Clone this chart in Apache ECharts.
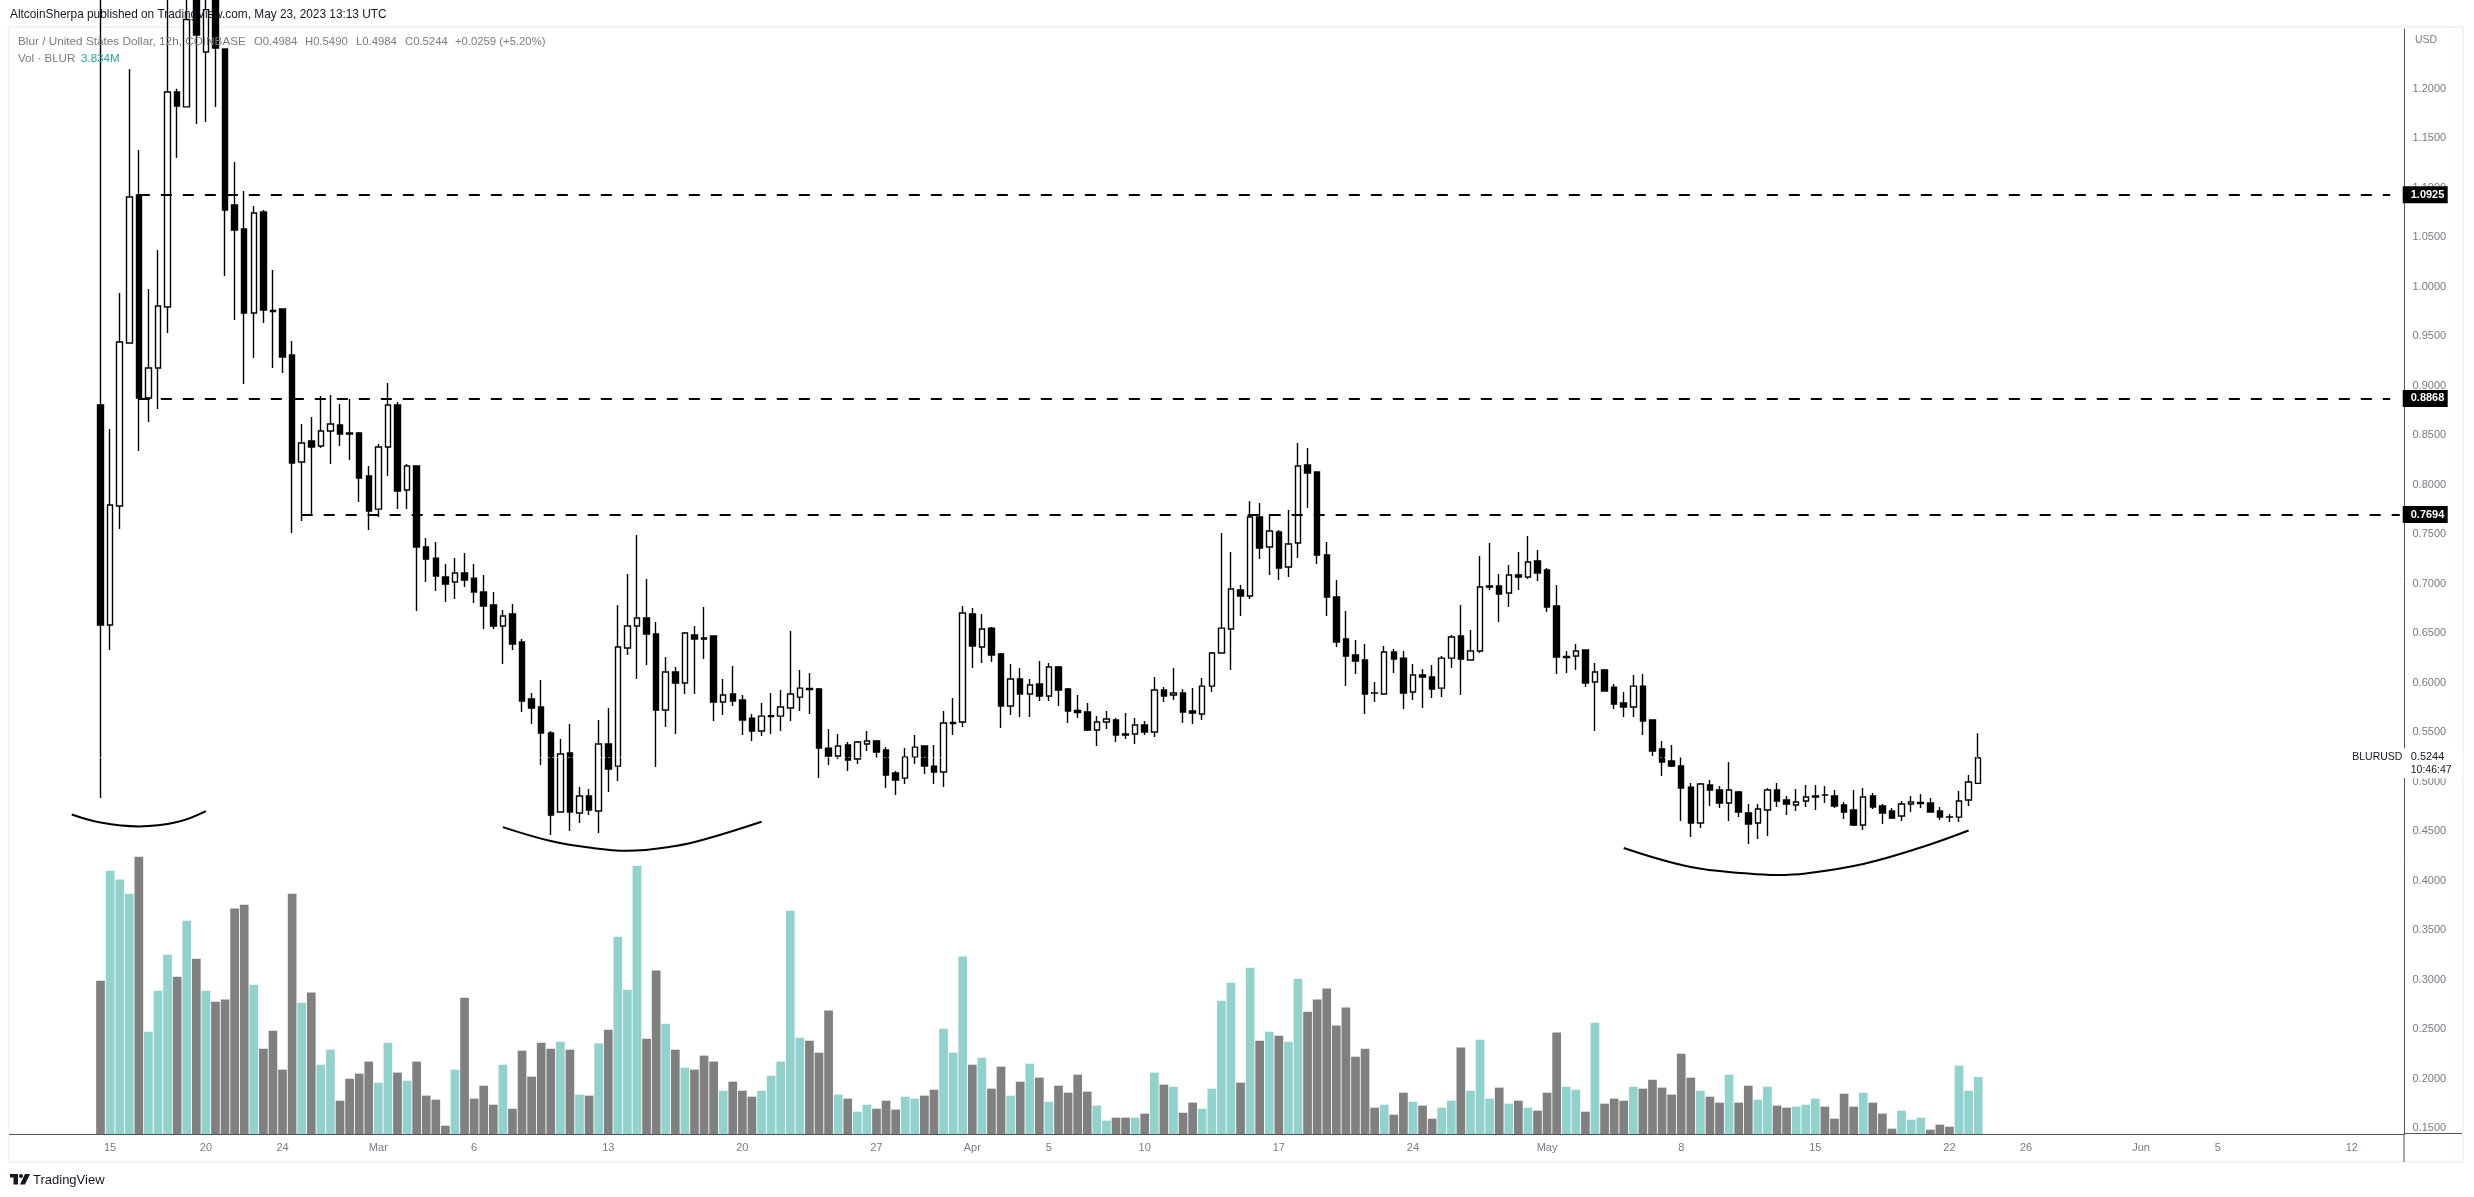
<!DOCTYPE html>
<html>
<head>
<meta charset="utf-8">
<title>BLURUSD</title>
<script src="https://cdn.jsdelivr.net/npm/echarts@6/dist/echarts.min.js"></script>
<style>
html,body{margin:0;padding:0;background:#fff;}
#main{width:2474px;height:1197px;}
</style>
</head>
<body>
<div id="main"></div>
<script>
// 12h candles. first candle is 2023-02-14 12:00
const opens = [
.8806,.6584,.7786,.9432,1.0927,.8877,.9180,.9796,1.1968,1.1817,
1.32,1.2372,1.30,1.2402,1.0826,1.0584,.9735,1.0756,.9761,.9776,
.9311,.8230,.8442,.8392,.8543,.8604,.8523,.8523,.8089,.7755,
.8382,.8806,.7947,.8190,.7372,.7260,.7069,.7018,.7109,.7058,
.6917,.6786,.6574,.6695,.6412,.5836,.5756,.5493,.4695,.5291,
.4685,.4857,.4705,.5382,.5159,.6352,.6574,.6655,.6493,.5725,
.6109,.5998,.6483,.6453,.6473,.5806,.5887,.5826,.5644,.5513,
.5659,.5664,.5746,.5856,.5942,.5937,.5341,.5261,.5372,.5230,
.5382,.5412,.5321,.5089,.5038,.5250,.5362,.5159,.5099,.5589,
.5604,.6695,.6362,.6553,.6291,.5766,.6038,.5887,.5988,.5867,
.6160,.5937,.5720,.5705,.5523,.5604,.5624,.5483,.5483,.5574,
.5503,.5927,.5877,.5897,.5716,.5685,.5967,.6301,.6543,.6937,
.6877,.7675,.7372,.7523,.7170,.7412,.8200,.8129,.7291,.6867,
.6442,.6281,.6230,.5898,.5887,.6311,.6250,.5907,.6079,.6059,
.5947,.6250,.6473,.6230,.6321,.6968,.6978,.6907,.7089,.7069,
.7230,.7139,.6776,.6256,.6271,.6331,.6008,.6130,.5957,.5796,
.5756,.5967,.5624,.5331,.5210,.5160,.4947,.4584,.4968,.4917,
.4786,.4897,.4685,.4584,.4715,.4917,.4816,.4766,.4806,.4847,
.4868,.4857,.4766,.4715,.4564,.4857,.4756,.4705,.4655,.4776,
.4781,.4786,.4705,.4645,.4644,.4816,.4984];
const closes = [
.6584,.7796,.9442,1.0907,.8877,.9180,.9806,1.1968,1.1827,1.27,
1.2543,1.28,1.2412,1.0776,1.0574,.9735,1.0745,.9766,.9751,.9291,
.8220,.8422,.8382,.8543,.8614,.8513,.8513,.8069,.7735,.8382,
.8806,.7937,.8190,.7372,.7250,.7079,.6998,.7109,.7038,.6917,
.6776,.6574,.6675,.6392,.5816,.5746,.5493,.4665,.5281,.4695,
.4857,.4715,.5382,.5129,.6362,.6574,.6655,.6493,.5725,.6109,
.5998,.6503,.6442,.6443,.5806,.5877,.5816,.5624,.5513,.5664,
.5669,.5756,.5887,.5947,.5932,.5341,.5261,.5362,.5220,.5402,
.5412,.5301,.5069,.5018,.5250,.5351,.5159,.5099,.5594,.5599,
.6705,.6372,.6543,.6281,.5766,.6038,.5887,.5978,.5867,.6160,
.5927,.5715,.5700,.5523,.5604,.5634,.5473,.5473,.5574,.5503,
.5927,.5867,.5897,.5705,.5695,.5967,.6301,.6553,.6947,.6877,
.7675,.7362,.7533,.7160,.7402,.8190,.8119,.7291,.6867,.6412,
.6271,.6220,.5887,.5897,.6311,.6240,.5897,.6079,.6059,.5937,
.6250,.6463,.6240,.6321,.6968,.6978,.6897,.7089,.7069,.7220,
.7109,.6766,.6261,.6266,.6321,.5998,.6109,.5917,.5786,.5756,
.5967,.5614,.5311,.5200,.5160,.4937,.4584,.4978,.4917,.4786,
.4917,.4695,.4574,.4725,.4917,.4806,.4776,.4796,.4847,.4857,
.4867,.4756,.4695,.4564,.4847,.4745,.4685,.4634,.4776,.4796,
.4791,.4695,.4644,.4644,.4806,.4998,.5244];
const lows = [
.4837,.6331,.7553,.9432,.8341,.8634,.8766,.9533,1.1301,1.1817,
1.1645,1.1665,1.1816,1.0109,.9665,.9018,.9281,.9634,.9180,.9129,
.7513,.7634,.7705,.8372,.8210,.8392,.8250,.7826,.7543,.7675,
.8089,.7755,.7755,.6725,.7018,.6927,.6816,.6846,.6968,.6806,
.6543,.6543,.6190,.6331,.5705,.5584,.5170,.4463,.4695,.4503,
.4584,.4665,.4483,.4897,.5008,.6281,.6038,.6180,.5150,.5554,
.5483,.5887,.5887,.6240,.5614,.5675,.5766,.5473,.5412,.5463,
.5483,.5513,.5614,.5715,.5685,.5038,.5170,.5230,.5109,.5180,
.5311,.5240,.4937,.4867,.4977,.5180,.5079,.4977,.4947,.5473,
.5554,.6150,.6200,.6210,.5544,.5675,.5655,.5655,.5816,.5816,
.5766,.5594,.5644,.5513,.5361,.5534,.5402,.5432,.5382,.5473,
.5453,.5806,.5826,.5594,.5584,.5624,.5907,.6301,.6130,.6675,
.6846,.7250,.7089,.7038,.7069,.7260,.7766,.7200,.6675,.6362,
.5968,.6089,.5685,.5806,.5887,.6099,.5735,.5826,.5746,.5846,
.5856,.6150,.5877,.6230,.6301,.6938,.6614,.6766,.6937,.7048,
.7028,.6715,.6089,.6099,.6130,.5957,.5513,.5917,.5735,.5655,
.5655,.5473,.5260,.5059,.5150,.4604,.4442,.4533,.4756,.4735,
.4604,.4644,.4372,.4422,.4453,.4745,.4665,.4705,.4745,.4715,
.4786,.4735,.4624,.4554,.4513,.4725,.4574,.4624,.4604,.4695,
.4735,.4695,.4614,.4594,.4594,.4756,.4984];
const highs = [
1.32,.8564,.9937,1.22,1.1382,.9978,1.0372,1.30,1.2,1.30,
1.36,1.33,1.34,1.2402,1.1261,1.0968,1.0816,1.0776,1.0170,.9776,
.9453,.8614,.8685,.8897,.8907,.8816,.8867,.8533,.8190,.8412,
.9028,.8836,.8210,.8190,.7463,.7422,.7200,.7260,.7311,.7200,
.7089,.6917,.6735,.6796,.6442,.5897,.6028,.5513,.5432,.5584,
.4947,.4927,.5624,.5746,.6786,.7099,.7493,.7048,.6614,.6261,
.6160,.6513,.6574,.6766,.6473,.6038,.6170,.5877,.5685,.5796,
.5897,.5927,.6523,.6130,.6099,.5947,.5534,.5483,.5402,.5412,
.5513,.5422,.5351,.5109,.5341,.5473,.5362,.5372,.5715,.5846,
.6776,.6756,.6695,.6563,.6301,.6190,.6150,.6038,.6220,.6200,
.6170,.5947,.5877,.5796,.5664,.5715,.5644,.5695,.5644,.5614,
.6058,.5958,.6150,.5938,.5947,.6048,.6311,.7513,.7321,.6988,
.7836,.7816,.7705,.7543,.7745,.8422,.8372,.8129,.7422,.7038,
.6725,.6432,.6392,.6008,.6372,.6341,.6321,.6190,.6139,.6180,
.6271,.6483,.6786,.6534,.7281,.7412,.7099,.7190,.7321,.7483,
.7341,.7159,.6988,.6321,.6392,.6331,.6200,.6139,.5988,.5907,
.6079,.6089,.5624,.5412,.5372,.5250,.4988,.4988,.5018,.4957,
.5200,.4907,.4776,.4776,.4937,.4988,.4857,.4927,.4968,.4968,
.4958,.4917,.4796,.4917,.4937,.4887,.4776,.4735,.4806,.4857,
.4877,.4836,.4745,.4675,.4907,.5069,.5490];
// volume in millions
const volumes = [
10.31,17.71,17.11,16.16,18.65,6.88,9.64,12.06,10.58,14.35,
11.79,9.64,8.90,9.04,15.16,15.42,10.04,5.74,6.95,4.33,
16.16,8.83,9.51,4.66,5.67,2.24,3.72,4.06,4.87,3.45,
6.14,4.13,3.59,4.87,2.58,2.31,0.56,4.33,9.17,2.38,
3.25,1.97,4.66,1.70,5.61,3.86,6.14,5.74,6.21,5.67,
2.65,2.58,6.08,7.02,13.27,9.71,18.05,6.41,10.99,7.42,
5.67,4.46,4.33,5.27,4.87,2.91,3.52,2.91,2.51,2.91,
3.92,4.87,15.02,6.48,6.28,5.47,8.30,2.65,2.38,1.50,
1.97,1.70,2.24,1.64,2.51,2.38,2.58,2.98,7.08,5.47,
11.93,4.66,5.13,3.05,4.53,2.58,3.52,4.73,3.79,2.17,
3.25,2.78,3.99,2.85,1.91,0.90,1.10,1.10,1.10,1.37,
4.13,3.32,3.18,1.43,2.11,1.70,3.05,8.97,10.18,3.45,
11.19,6.28,6.88,6.61,6.21,10.45,8.23,9.04,9.78,7.29,
8.50,5.20,5.74,1.77,1.97,1.30,2.78,2.17,1.91,1.03,
1.77,2.24,5.81,2.91,6.34,2.38,3.12,2.04,2.24,1.77,
1.57,2.78,6.82,3.18,2.98,1.50,7.49,2.04,2.38,2.24,
3.18,3.05,3.65,3.12,2.65,5.40,3.79,2.91,2.51,2.11,
3.99,2.11,3.25,2.31,3.18,1.91,1.77,1.84,1.97,2.38,
1.84,1.03,2.71,1.84,2.78,2.11,1.37,0.36,1.57,0.96,
1.10,0.29,0.63,0.49,4.60,2.91,3.834];

const priceTicks = [0.15,0.2,0.25,0.3,0.35,0.4,0.45,0.5,0.55,0.6,0.65,0.7,0.75,0.8,0.85,0.9,0.95,1,1.05,1.1,1.15,1.2];
const tickDays = ['02-15','02-20','02-24','03-01','03-06','03-13','03-20','03-27','04-01','04-05','04-10','04-17','04-24','05-01','05-08','05-15','05-22','05-26','06-01','06-05','06-12'];
const tickLabels = ['15','20','24','Mar','6','13','20','27','Apr','5','10','17','24','May','8','15','22','26','Jun','5','12'];

// horizontal levels: price, first slot, last slot
const levelPrices = [1.0925,0.8868,0.7694];
const levelStart = [13,13,30];
const levelEnd = [248,248,249];

// hand drawn arcs under the lows: [slot, price]
const arcLeft = [[6,.4670],[9,.4589],[13,.4550],[17,.4594],[20,.4705]];
const arcMiddle = [[51,.4543],[56,.4402],[60,.4336],[64,.4304],[69,.4352],[72,.4417],[78,.4597]];
const arcRight = [[168,.4331],[175,.4139],[181,.4074],[184,.4059],[187,.4074],[193,.4170],[199,.4336],[204,.4508]];

// header values and where each one starts
const headerValues = ['O0.4984','H0.5490','L0.4984','C0.5244','+0.0259 (+5.20%)'];
const headerValueX = [254,305,356,405,455];

const lastPrice = 0.5244;
const FIRST_SLOT = 9;

// 250 half day slots, 2023-02-10 onwards
const categories = [];
const dayMs = new Date(Date.UTC(2023,1,10)).getTime();
for (let i = 0; i < 250; i++) {
  const d = new Date(dayMs + i * 43200000);
  const name = String(d.getUTCMonth()+1).padStart(2,'0') + '-' + String(d.getUTCDate()).padStart(2,'0');
  categories.push(i % 2 ? name + ' 12h' : name);
}

const candles = opens.map((o,i) => [i + FIRST_SLOT, o, closes[i], lows[i], highs[i]]);
const volBars = volumes.map((v,i) => ({
  value: [i + FIRST_SLOT, v],
  itemStyle: {color: closes[i] >= opens[i] ? '#92d2cc' : '#808080'}
}));

const FONT = '"Liberation Sans"';
const AXIS_COLOR = '#50535e';
const TEXT_COLOR = '#787b86';

function arcSeries(points) {
  return {
    type: 'line', data: points, smooth: 0.4, symbol: 'none', silent: true, z: 6,
    lineStyle: {color: '#000', width: 2}
  };
}

const chart = echarts.init(document.getElementById('main'), null, {renderer: 'canvas'});
const option = {
  animation: false,
  backgroundColor: '#fff',
  grid: {left: 9.5, top: 29, width: 2395, height: 1105},
  xAxis: {
    type: 'category',
    data: categories,
    boundaryGap: true,
    axisLine: {lineStyle: {color: AXIS_COLOR, width: 1}},
    axisTick: {show: false},
    splitLine: {show: false},
    axisLabel: {
      interval: (i, name) => tickDays.includes(name),
      formatter: name => tickLabels[tickDays.indexOf(name)],
      color: TEXT_COLOR, fontFamily: FONT, fontSize: 11, margin: 8
    }
  },
  yAxis: [{
    type: 'value', position: 'right', min: 0.1443, max: 1.2604, scale: true,
    axisLine: {show: true, lineStyle: {color: AXIS_COLOR, width: 1}},
    axisTick: {show: false},
    splitLine: {show: false},
    axisLabel: {
      customValues: priceTicks,
      formatter: v => v.toFixed(4),
      color: TEXT_COLOR, fontFamily: FONT, fontSize: 11, margin: 8
    }
  }, {
    type: 'value', min: 0, max: 74.32, show: false
  }],
  series: [{
    type: 'bar', yAxisIndex: 1, data: volBars, barWidth: 8.7, silent: true, z: 1
  }, {
    type: 'candlestick',
    data: candles,
    encode: {x: 0, y: [1,2,3,4]},
    barWidth: 6,
    clip: true,
    silent: true,
    z: 3,
    itemStyle: {color: '#fff', color0: '#000', borderColor: '#000', borderColor0: '#000', borderColorDoji: '#000', borderWidth: 1.4},
    markLine: {
      silent: true, symbol: 'none', animation: false, z: 5,
      label: {show: false},
      data: levelPrices.map((p,i) => [
        {coord: [levelStart[i], p], lineStyle: {color: '#000', width: 2, type: [11,11]}},
        {coord: [levelEnd[i], p]}
      ]).concat([[
        {coord: [FIRST_SLOT, lastPrice], lineStyle: {color: '#fff', width: 1, type: [1,3]}},
        {coord: [249, lastPrice]}
      ]])
    }
  },
  arcSeries(arcLeft), arcSeries(arcMiddle), arcSeries(arcRight),
  {
    // price tags on the axis
    type: 'scatter', symbolSize: 1, clip: false, silent: true, z: 12,
    itemStyle: {color: 'rgba(0,0,0,0)', opacity: 1},
    data: levelPrices.map(p => ({
      value: [249, p],
      label: {
        show: true, position: [3.5,-8.5], formatter: p.toFixed(4),
        backgroundColor: '#000', color: '#fff', fontFamily: FONT, fontWeight: 'bold', fontSize: 11,
        padding: [3,5,3,8], width: 32, height: 11, lineHeight: 11
      }
    })).concat([{
      value: [249, lastPrice],
      label: {
        show: true, position: [3.5,-9], formatter: '{a|' + lastPrice.toFixed(4) + '}\n{b|10:46:47}',
        backgroundColor: '#fff', padding: [2,8,2,8], width: 44,
        rich: {
          a: {color: '#131722', fontFamily: FONT, fontSize: 11, lineHeight: 13},
          b: {color: '#131722', fontFamily: FONT, fontSize: 10.5, lineHeight: 13}
        }
      }
    }, {
      value: [249, lastPrice],
      label: {
        show: true, position: [-47,-6], formatter: 'BLURUSD',
        backgroundColor: '#fff', color: '#131722', fontFamily: FONT, fontSize: 10.5
      }
    }])
  }],
  graphic: [
    {type: 'rect', silent: true, z: -1, shape: {x: 9, y: 27, width: 2454, height: 1135},
      style: {fill: 'none', stroke: '#f0f3fa', lineWidth: 2}},
    {type: 'line', silent: true, shape: {x1: 2404, y1: 1134, x2: 2404, y2: 1162}, style: {stroke: AXIS_COLOR, lineWidth: 1}},
    {type: 'line', silent: true, shape: {x1: 2404, y1: 1133.5, x2: 2462, y2: 1133.5}, style: {stroke: AXIS_COLOR, lineWidth: 1}},
    {type: 'text', silent: true, z: 20, x: 10, y: 15, style: {
      text: 'AltcoinSherpa published on TradingView.com, May 23, 2023 13:13 UTC',
      fill: '#131722', font: '11.85px ' + FONT, textVerticalAlign: 'middle'}},
    {type: 'text', silent: true, z: 20, x: 18, y: 42, style: {
      text: 'Blur / United States Dollar, 12h, COINBASE',
      fill: '#787b86', font: '11.75px ' + FONT, textVerticalAlign: 'middle'}}
  ].concat(headerValues.map((t,i) => ({
    type: 'text', silent: true, z: 20, x: headerValueX[i], y: 42, style: {
      text: t, fill: '#787b86', font: '11.3px ' + FONT, textVerticalAlign: 'middle'}
  }))).concat([
    {type: 'text', silent: true, z: 20, x: 18, y: 59, style: {
      text: 'Vol · BLUR', fill: '#787b86', font: '11.6px ' + FONT, textVerticalAlign: 'middle'}},
    {type: 'text', silent: true, z: 20, x: 81, y: 59, style: {
      text: '3.834M', fill: '#26a69a', font: '11.6px ' + FONT, textVerticalAlign: 'middle'}},
    {type: 'text', silent: true, x: 2415, y: 40, style: {
      text: 'USD', fill: '#787b86', font: '10.5px ' + FONT, textVerticalAlign: 'middle'}},
    // logo
    {type: 'rect', silent: true, shape: {x: 10, y: 1174, width: 8, height: 3.5}, style: {fill: '#131722'}},
    {type: 'rect', silent: true, shape: {x: 13.5, y: 1174, width: 4.5, height: 10.5}, style: {fill: '#131722'}},
    {type: 'circle', silent: true, shape: {cx: 21, cy: 1176, r: 2}, style: {fill: '#131722'}},
    {type: 'polygon', silent: true, shape: {points: [[25,1174],[30,1174],[25,1184.5],[20,1184.5]]}, style: {fill: '#131722'}},
    {type: 'text', silent: true, x: 33, y: 1180, style: {
      text: 'TradingView', fill: '#131722', font: '13px ' + FONT, textVerticalAlign: 'middle'}}
  ])
};
chart.setOption(option);
</script>
</body>
</html>
